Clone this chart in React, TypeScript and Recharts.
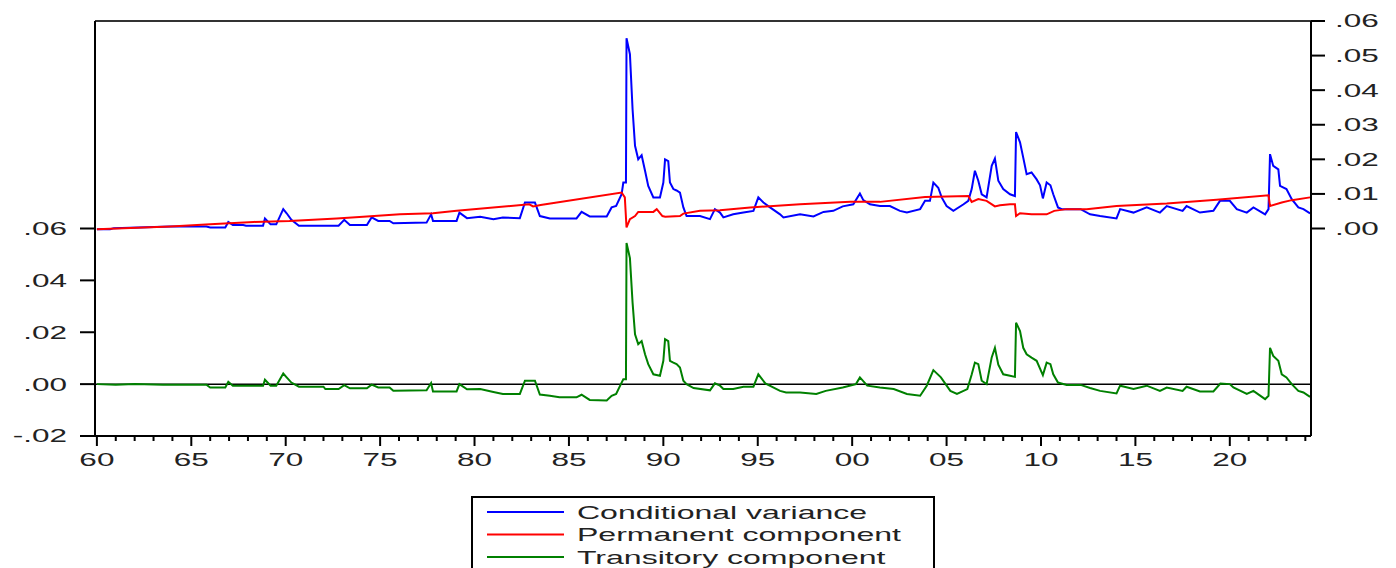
import { LineChart, Line, XAxis, YAxis, ReferenceLine } from 'recharts';

// conditional variance (right axis)
const condTimes = [
  1960.0, 1960.7, 1960.9, 1963.9, 1965.8, 1966.0, 1966.8, 1966.96, 1967.2, 1967.75,
  1967.9, 1968.8, 1968.9, 1969.2, 1969.5, 1969.87, 1970.05, 1970.3, 1970.7, 1972.8,
  1973.1, 1973.4, 1974.3, 1974.55, 1974.9, 1975.5, 1975.7, 1977.46, 1977.7, 1977.8,
  1979.05, 1979.2, 1979.6, 1980.3, 1981.0, 1981.5, 1982.4, 1982.67, 1983.2, 1983.46,
  1983.99, 1985.4, 1985.67, 1986.1, 1987.0, 1987.26, 1987.5, 1987.79, 1987.88, 1988.02,
  1988.05, 1988.23, 1988.37, 1988.5, 1988.67, 1988.85, 1989.03, 1989.2, 1989.47, 1989.82,
  1990.0, 1990.09, 1990.26, 1990.35, 1990.53, 1990.7, 1990.88, 1991.06, 1991.23, 1991.94,
  1992.47, 1992.73, 1993.0, 1993.18, 1993.7, 1994.24, 1994.77, 1995.03, 1995.3, 1995.65,
  1996.18, 1996.36, 1997.24, 1997.95, 1998.48, 1999.0, 1999.5, 2000.06, 2000.41, 2000.59,
  2000.94, 2001.47, 2002.0, 2002.53, 2002.9, 2003.6, 2003.86, 2004.12, 2004.3, 2004.56,
  2004.74, 2005.0, 2005.36, 2005.9, 2006.15, 2006.33, 2006.5, 2006.68, 2006.86, 2007.12,
  2007.39, 2007.56, 2007.74, 2008.0, 2008.36, 2008.62, 2008.68, 2008.89, 2009.06, 2009.24,
  2009.5, 2009.77, 2009.95, 2010.1, 2010.3, 2010.5, 2010.65, 2010.9, 2011.1, 2012.1,
  2012.6, 2013.13, 2014.0, 2014.19, 2014.9, 2015.6, 2016.3, 2016.66, 2017.5, 2017.71,
  2018.42, 2019.13, 2019.48, 2020.0, 2020.37, 2020.9, 2021.25, 2021.87, 2022.05, 2022.13,
  2022.3, 2022.57, 2022.66, 2023.0, 2023.28, 2023.63, 2023.9, 2024.25,
];
const condValues = [
  -0.0002, -0.0002, 0.0001, 0.0006, 0.0006, 0.0003, 0.0003, 0.0019, 0.001, 0.001,
  0.0008, 0.0008, 0.0029, 0.0012, 0.0012, 0.0056, 0.0044, 0.0025, 0.0008, 0.0008,
  0.0025, 0.001, 0.001, 0.0032, 0.0022, 0.0022, 0.0015, 0.0017, 0.0041, 0.0022,
  0.0022, 0.0046, 0.003, 0.0034, 0.0027, 0.0032, 0.003, 0.0075, 0.0075, 0.0036,
  0.0029, 0.0029, 0.0048, 0.0035, 0.0035, 0.0061, 0.0065, 0.0099, 0.0133, 0.0133,
  0.055, 0.0504, 0.0345, 0.0239, 0.02, 0.0212, 0.0167, 0.0123, 0.009, 0.009,
  0.0133, 0.02, 0.0195, 0.0133, 0.0114, 0.011, 0.0104, 0.0061, 0.0036, 0.0036,
  0.0027, 0.0056, 0.0046, 0.0032, 0.0041, 0.0046, 0.0051, 0.009, 0.0075, 0.0061,
  0.0041, 0.0032, 0.0041, 0.0035, 0.0048, 0.0051, 0.0064, 0.007, 0.0101, 0.0082,
  0.007, 0.0065, 0.0065, 0.0051, 0.0046, 0.0056, 0.008, 0.008, 0.0133, 0.0118,
  0.009, 0.0065, 0.0051, 0.007, 0.008, 0.0114, 0.0167, 0.0138, 0.0099, 0.009,
  0.0181, 0.0202, 0.0138, 0.0114, 0.0099, 0.0094, 0.0279, 0.0249, 0.0205, 0.0157,
  0.0162, 0.0142, 0.0125, 0.0087, 0.0133, 0.0125, 0.0099, 0.0061, 0.0056, 0.0056,
  0.0041, 0.0036, 0.0029, 0.0056, 0.0046, 0.0061, 0.0046, 0.0065, 0.0051, 0.0065,
  0.0046, 0.0051, 0.008, 0.008, 0.0056, 0.0046, 0.0061, 0.0041, 0.0056, 0.0215,
  0.0181, 0.0171, 0.0123, 0.0114, 0.0085, 0.0061, 0.0056, 0.0044,
];

// permanent component (right axis)
const permTimes = [
  1960.0, 1963.9, 1966.0, 1968.3, 1970.2, 1972.7, 1974.1, 1976.05, 1977.8, 1979.05,
  1982.9, 1983.1, 1983.5, 1987.79, 1987.96, 1988.05, 1988.23, 1988.5, 1988.67, 1989.47,
  1989.65, 1989.95, 1990.1, 1990.88, 1991.06, 1991.94, 1993.0, 1994.6, 1997.24, 1999.9,
  2001.47, 2003.86, 2006.15, 2006.33, 2006.68, 2007.12, 2007.56, 2007.83, 2008.36, 2008.62,
  2008.68, 2008.89, 2009.5, 2010.3, 2010.7, 2011.36, 2012.42, 2014.0, 2016.66, 2019.3,
  2022.05, 2022.13, 2022.75, 2023.28, 2024.25,
];
const permValues = [
  -0.0002, 0.0006, 0.0012, 0.0019, 0.0022, 0.0029, 0.0034, 0.0041, 0.0044, 0.0051,
  0.007, 0.0064, 0.0068, 0.0104, 0.009, 0.0003, 0.0027, 0.0036, 0.0048, 0.0048,
  0.0056, 0.0036, 0.0034, 0.0036, 0.0043, 0.0051, 0.0053, 0.0061, 0.007, 0.0077,
  0.0077, 0.0091, 0.0094, 0.0077, 0.0085, 0.008, 0.0064, 0.0067, 0.007, 0.007,
  0.0036, 0.0044, 0.0041, 0.0041, 0.0051, 0.0056, 0.0056, 0.0065, 0.0072, 0.0083,
  0.0096, 0.0065, 0.0075, 0.0082, 0.009,
];

// transitory component (left axis)
const transTimes = [
  1960.0, 1961.0, 1962.0, 1963.5, 1965.8, 1966.0, 1966.8, 1966.96, 1967.2, 1968.8,
  1968.9, 1969.2, 1969.5, 1969.87, 1970.05, 1970.3, 1970.7, 1972.0, 1972.1, 1972.8,
  1973.1, 1973.4, 1974.3, 1974.55, 1974.9, 1975.5, 1975.7, 1977.46, 1977.7, 1977.8,
  1979.05, 1979.2, 1979.6, 1980.3, 1981.0, 1981.5, 1982.4, 1982.67, 1983.2, 1983.46,
  1983.99, 1984.5, 1985.4, 1985.67, 1986.1, 1987.0, 1987.26, 1987.5, 1987.79, 1987.88,
  1988.02, 1988.05, 1988.23, 1988.37, 1988.5, 1988.67, 1988.85, 1989.03, 1989.2, 1989.47,
  1989.82, 1990.0, 1990.09, 1990.26, 1990.35, 1990.53, 1990.7, 1990.88, 1991.06, 1991.23,
  1991.6, 1992.47, 1992.73, 1993.0, 1993.18, 1993.7, 1994.24, 1994.77, 1995.03, 1995.4,
  1996.18, 1996.5, 1997.24, 1998.1, 1998.6, 1999.5, 2000.2, 2000.41, 2000.8, 2001.47,
  2002.2, 2002.9, 2003.6, 2003.95, 2004.3, 2004.7, 2005.2, 2005.55, 2006.1, 2006.33,
  2006.5, 2006.68, 2006.86, 2007.12, 2007.39, 2007.56, 2007.74, 2008.0, 2008.36, 2008.62,
  2008.68, 2008.89, 2009.06, 2009.24, 2009.5, 2009.77, 2009.95, 2010.1, 2010.3, 2010.5,
  2010.65, 2010.9, 2011.36, 2012.1, 2012.6, 2013.13, 2014.0, 2014.19, 2014.9, 2015.6,
  2016.3, 2016.66, 2017.5, 2017.71, 2018.42, 2019.13, 2019.5, 2020.0, 2020.19, 2020.9,
  2021.25, 2021.87, 2022.05, 2022.13, 2022.3, 2022.57, 2022.75, 2023.0, 2023.28, 2023.63,
  2023.9, 2024.25,
];
const transValues = [
  0.0, -0.0002, 0.0, -0.0002, -0.0002, -0.0013, -0.0013, 0.0009, -0.0006, -0.0006,
  0.0017, -0.0006, -0.0006, 0.0041, 0.0026, 0.0006, -0.001, -0.001, -0.0019, -0.0019,
  -0.0004, -0.0016, -0.0016, -0.0002, -0.0013, -0.0013, -0.0026, -0.0024, 0.0004, -0.0028,
  -0.0028, 0.0, -0.002, -0.0019, -0.003, -0.0038, -0.0038, 0.0013, 0.0013, -0.004,
  -0.0045, -0.0051, -0.0051, -0.0041, -0.0061, -0.0063, -0.0045, -0.0038, 0.0006, 0.0019,
  0.0019, 0.0544, 0.0486, 0.0314, 0.0192, 0.0154, 0.0166, 0.0115, 0.0077, 0.0038,
  0.0032, 0.009, 0.0173, 0.0166, 0.009, 0.0083, 0.0077, 0.0064, 0.0013, 0.0,
  -0.0015, -0.0024, 0.0003, -0.0006, -0.0019, -0.0019, -0.001, -0.001, 0.0038, 0.0003,
  -0.0026, -0.0032, -0.0032, -0.0038, -0.0026, -0.0013, 0.0, 0.0026, -0.0006, -0.0013,
  -0.0019, -0.0038, -0.0045, -0.0006, 0.0054, 0.0026, -0.0026, -0.0038, -0.0019, 0.0037,
  0.0083, 0.0077, 0.0013, 0.0, 0.0103, 0.014, 0.0075, 0.0038, 0.0032, 0.0028,
  0.0237, 0.0205, 0.014, 0.0115, 0.0102, 0.009, 0.006, 0.0035, 0.0083, 0.0077,
  0.0038, 0.0006, -0.0003, -0.0003, -0.0015, -0.0026, -0.0036, -0.0006, -0.0019, -0.0006,
  -0.0026, -0.0013, -0.0026, -0.001, -0.0028, -0.0028, 0.0002, 0.0, -0.0013, -0.0038,
  -0.0026, -0.0058, -0.0045, 0.014, 0.0109, 0.009, 0.0038, 0.0026, 0.0, -0.0026,
  -0.0032, -0.0049,
];

const leftTicks = [-0.02, 0, 0.02, 0.04, 0.06];
const rightTicks = [0, 0.01, 0.02, 0.03, 0.04, 0.05, 0.06];
const yearTicks = Array.from({ length: 65 }, (_, i) => 1960 + i);

const legendItems = [
  { label: 'Conditional variance', color: '#0000ff' },
  { label: 'Permanent component', color: '#ff0000' },
  { label: 'Transitory component', color: '#008000' },
];

const FONT = '"Liberation Sans", Arial, sans-serif';
const STRETCH = 1.75;
const TEXT = '#222';

const toRows = (ts: number[], vs: number[]) => ts.map((t, i) => ({ t, v: vs[i] }));
const condData = toRows(condTimes, condValues);
const permData = toRows(permTimes, permValues);
const transData = toRows(transTimes, transValues);

function fmt(v: number) {
  const s = Math.abs(v).toFixed(2).replace(/^0/, '');
  return (v < -1e-9 ? '-' : '') + s;
}

function SideTick({ x, y, payload, anchor }: any) {
  return (
    <g transform={`translate(${x},${y})`}>
      <text
        transform={`scale(${STRETCH},1)`}
        textAnchor={anchor}
        dy="0.36em"
        fontSize={18}
        fontFamily={FONT}
        fill={TEXT}
      >
        {fmt(payload.value)}
      </text>
    </g>
  );
}

function YearTick({ x, y, payload }: any) {
  const year = payload.value as number;
  const major = year % 5 === 0;
  return (
    <g>
      <line x1={x} x2={x} y1={y} y2={y + (major ? 10 : 5)} stroke="#000" strokeWidth={2} />
      {major && (
        <text
          transform={`translate(${x},${y + 29.5}) scale(${STRETCH},1)`}
          textAnchor="middle"
          fontSize={18}
          fontFamily={FONT}
          fill={TEXT}
        >
          {String(year % 100).padStart(2, '0')}
        </text>
      )}
    </g>
  );
}

export default function App() {
  return (
    <div
      style={{
        position: 'absolute',
        left: 0,
        top: 0,
        width: 1396,
        height: 568,
        overflow: 'hidden',
        background: '#fff',
      }}
    >
      <LineChart width={1396} height={568} margin={{ top: 21, right: 15, bottom: 102, left: 35 }}>
        <XAxis
          dataKey="t"
          type="number"
          domain={[1959.9, 2024.3]}
          allowDataOverflow
          ticks={yearTicks}
          interval={0}
          height={30}
          tickLine={false}
          tickSize={0}
          tickMargin={0}
          axisLine={{ stroke: '#000', strokeWidth: 2 }}
          tick={(p: any) => <YearTick {...p} />}
        />
        <YAxis
          yAxisId="left"
          width={60}
          domain={[-0.02, 0.14]}
          allowDataOverflow
          ticks={leftTicks}
          interval={0}
          tickSize={15}
          tickMargin={13}
          tickLine={{ stroke: '#000', strokeWidth: 2 }}
          axisLine={{ stroke: '#000', strokeWidth: 2 }}
          tick={(p: any) => <SideTick {...p} anchor="end" />}
        />
        <YAxis
          yAxisId="right"
          orientation="right"
          width={70}
          domain={[-0.06, 0.06]}
          allowDataOverflow
          ticks={rightTicks}
          interval={0}
          tickSize={14}
          tickMargin={10}
          tickLine={{ stroke: '#000', strokeWidth: 2 }}
          axisLine={{ stroke: '#000', strokeWidth: 2 }}
          tick={(p: any) => <SideTick {...p} anchor="start" />}
        />
        <ReferenceLine yAxisId="left" y={0.14} stroke="#333" strokeWidth={2} />
        <ReferenceLine yAxisId="left" y={0} stroke="#000" strokeWidth={1.5} />
        <Line
          yAxisId="right"
          data={condData}
          dataKey="v"
          type="linear"
          stroke="#0000ff"
          strokeWidth={2}
          dot={false}
          isAnimationActive={false}
        />
        <Line
          yAxisId="right"
          data={permData}
          dataKey="v"
          type="linear"
          stroke="#ff0000"
          strokeWidth={2}
          dot={false}
          isAnimationActive={false}
        />
        <Line
          yAxisId="left"
          data={transData}
          dataKey="v"
          type="linear"
          stroke="#008000"
          strokeWidth={2}
          dot={false}
          isAnimationActive={false}
        />
      </LineChart>
      <svg
        width={1396}
        height={568}
        style={{ position: 'absolute', left: 0, top: 0, pointerEvents: 'none' }}
      >
        <rect x={472} y={497} width={462} height={100} fill="#fff" stroke="#000" strokeWidth={2} />
        {legendItems.map((item, i) => {
          const cy = 512 + i * 22.5;
          return (
            <g key={item.label}>
              <line x1={487} x2={564} y1={cy} y2={cy} stroke={item.color} strokeWidth={2} />
              <text
                transform={`translate(577,${cy + 6.5}) scale(1.78,1)`}
                fontSize={18}
                fontFamily={FONT}
                fill={TEXT}
              >
                {item.label}
              </text>
            </g>
          );
        })}
      </svg>
    </div>
  );
}
